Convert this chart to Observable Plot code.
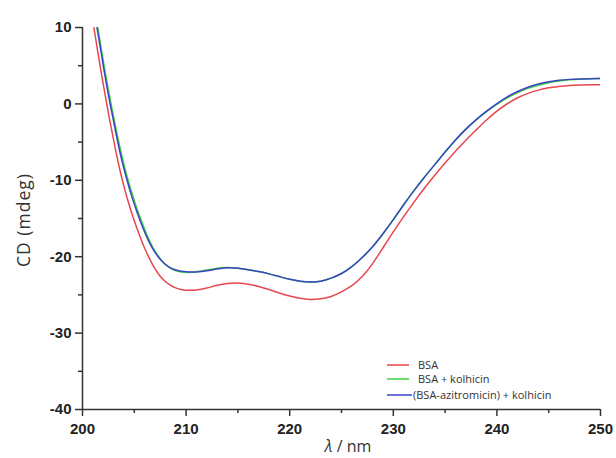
<!DOCTYPE html>
<html>
<head>
<meta charset="utf-8">
<script src="https://cdn.jsdelivr.net/npm/d3@7"></script>
<script src="https://cdn.jsdelivr.net/npm/@observablehq/plot@0.6"></script>
<style>
  html, body { margin: 0; padding: 0; background: #fff; }
  #chart svg { display: block; }
</style>
</head>
<body>
<div id="chart"></div>
<script>
// ---- Data ----
const seriesNames = ["BSA", "BSA + kolhicin", "(BSA-azitromicin) + kolhicin"];
const seriesColors = ["#e8464e", "#3ccf3c", "#3a45c4"];

const lambdaBSA = [201.1, 201.5, 202, 202.5, 203, 203.5, 204, 204.5, 205, 205.5, 206, 206.5, 207, 207.5, 208, 208.5, 209, 209.5, 210, 211, 212, 213, 214, 215, 216, 217, 218, 219, 220, 221, 222, 223, 224, 225, 226, 227, 228, 229, 230, 231, 232, 233, 234, 235, 236, 237, 238, 239, 240, 241, 242, 243, 244, 245, 246, 247, 248, 249, 250];
const cdBSA = [10, 6.6, 2.6, -1.2, -4.7, -8.0, -10.8, -13.2, -15.3, -17.2, -18.9, -20.35, -21.6, -22.55, -23.25, -23.75, -24.08, -24.28, -24.38, -24.35, -24.1, -23.75, -23.5, -23.45, -23.6, -23.9, -24.3, -24.75, -25.15, -25.45, -25.6, -25.5, -25.2, -24.6, -23.8, -22.6, -20.9, -18.85, -16.75, -14.75, -12.85, -11.05, -9.35, -7.75, -6.2, -4.75, -3.4, -2.1, -0.95, 0.02, 0.8, 1.38, 1.8, 2.1, 2.28, 2.4, 2.47, 2.51, 2.52];

const lambdaKol = [201.4, 201.8, 202.3, 202.8, 203.3, 203.8, 204.3, 204.8, 205.3, 205.8, 206.3, 206.8, 207.3, 207.8, 208.3, 208.8, 209.3, 209.8, 210.5, 211, 212, 213, 214, 215, 216, 217, 218, 219, 220, 221, 222, 223, 224, 225, 226, 227, 228, 229, 230, 231, 232, 233, 234, 235, 236, 237, 238, 239, 240, 241, 242, 243, 244, 245, 246, 247, 248, 249, 250];
const cdKol = [10.6, 7.3, 3.3, -0.3, -3.7, -6.8, -9.5, -11.8, -13.9, -15.7, -17.4, -18.8, -19.9, -20.75, -21.35, -21.75, -21.95, -22.05, -22.05, -21.95, -21.75, -21.5, -21.4, -21.5, -21.7, -21.95, -22.25, -22.6, -22.95, -23.2, -23.3, -23.2, -22.8, -22.2, -21.3, -20.1, -18.7, -17.0, -15.15, -13.2, -11.35, -9.6, -7.95, -6.3, -4.75, -3.35, -2.1, -1.0, -0.05, 0.78, 1.48, 2.03, 2.45, 2.77, 3.0, 3.15, 3.24, 3.29, 3.32];

const lambdaAzi = [201.4, 201.8, 202.3, 202.8, 203.3, 203.8, 204.3, 204.8, 205.3, 205.8, 206.3, 206.8, 207.3, 207.8, 208.3, 208.8, 209.3, 209.8, 210.5, 211, 212, 213, 214, 215, 216, 217, 218, 219, 220, 221, 222, 223, 224, 225, 226, 227, 228, 229, 230, 231, 232, 233, 234, 235, 236, 237, 238, 239, 240, 241, 242, 243, 244, 245, 246, 247, 248, 249, 250];
const cdAzi = [10, 6.7, 2.7, -0.9, -4.3, -7.4, -10.0, -12.3, -14.3, -16.1, -17.7, -19.0, -20.0, -20.75, -21.3, -21.65, -21.85, -21.95, -22.0, -22.0, -21.85, -21.6, -21.45, -21.5, -21.7, -21.95, -22.25, -22.6, -22.95, -23.2, -23.3, -23.2, -22.8, -22.2, -21.3, -20.1, -18.7, -17.0, -15.15, -13.2, -11.35, -9.6, -7.95, -6.3, -4.72, -3.3, -2.05, -0.95, 0.05, 0.92, 1.62, 2.18, 2.6, 2.9, 3.1, 3.21, 3.27, 3.3, 3.32];

const xMajorTicks = [200, 210, 220, 230, 240, 250];
const xMinorTicks = [205, 215, 225, 235, 245];
const yMajorTicks = [-40, -30, -20, -10, 0, 10];
const yMinorTicks = [-35, -25, -15, -5, 5];

const xTitle = "nm";
const yTitle = "CD (mdeg)";

// ---- Build tables ----
const toRows = (xs, ys, name) => xs.map((x, i) => ({lambda: x, cd: ys[i], series: name}));
const rowsBSA = toRows(lambdaBSA, cdBSA, seriesNames[0]);
const rowsKol = toRows(lambdaKol, cdKol, seriesNames[1]);
const rowsAzi = toRows(lambdaAzi, cdAzi, seriesNames[2]);

const axisColor = "#333";
const tickFont = "'Liberation Sans', Arial, sans-serif";

const chart = Plot.plot({
  width: 616,
  height: 458,
  marginLeft: 82,
  marginRight: 16,
  marginTop: 27,
  marginBottom: 49,
  style: {fontFamily: tickFont, color: "#222", background: "#fff", overflow: "visible"},
  x: {domain: [200, 250]},
  y: {domain: [-40, 10]},
  marks: [
    Plot.line(rowsBSA, {x: "lambda", y: "cd", stroke: seriesColors[0], strokeWidth: 1.5, curve: "natural", clip: true}),
    Plot.line(rowsKol, {x: "lambda", y: "cd", stroke: seriesColors[1], strokeWidth: 1.5, curve: "natural", clip: true}),
    Plot.line(rowsAzi, {x: "lambda", y: "cd", stroke: seriesColors[2], strokeWidth: 1.5, curve: "natural", clip: true}),
    Plot.ruleX([200], {stroke: axisColor, strokeWidth: 1.5}),
    Plot.ruleY([-40], {stroke: axisColor, strokeWidth: 1.5}),
    Plot.axisX({ticks: xMajorTicks, tickSize: 7, tickPadding: 7, tickFormat: d => String(d), label: null, fontSize: 15, fontWeight: "bold", stroke: axisColor, strokeWidth: 1.5}),
    Plot.axisX({ticks: xMinorTicks, tickSize: 4, tickFormat: () => "", label: null, stroke: axisColor, strokeWidth: 1.5}),
    Plot.axisY({ticks: yMajorTicks, tickSize: 7, tickPadding: 4, tickFormat: d => String(d), label: null, fontSize: 15, fontWeight: "bold", stroke: axisColor, strokeWidth: 1.5}),
    Plot.axisY({ticks: yMinorTicks, tickSize: 4, tickFormat: () => "", label: null, stroke: axisColor, strokeWidth: 1.5})
  ]
});

document.getElementById("chart").appendChild(chart);

// ---- Titles and legend ----
const svg = d3.select(chart);
const labelFont = "'Open Sans', 'Noto Sans', sans-serif";

svg.append("text")
  .attr("transform", "translate(30,220) rotate(-90)")
  .attr("text-anchor", "middle")
  .attr("font-family", labelFont)
  .attr("font-size", 17.5)
  .attr("letter-spacing", 1)
  .attr("fill", "#333")
  .text(yTitle);

const xt = svg.append("text")
  .attr("x", 348)
  .attr("y", 452)
  .attr("text-anchor", "middle")
  .attr("font-family", labelFont)
  .attr("font-size", 16)
  .attr("fill", "#333");
xt.append("tspan").attr("font-style", "italic").text("λ");
xt.append("tspan").text(" / " + xTitle);

const legendY = [365, 379, 395];
const legendLineEnd = [409, 409, 412];
const legendTextX = [418, 418, 413];
seriesNames.forEach((name, i) => {
  svg.append("line")
    .attr("x1", 387).attr("x2", legendLineEnd[i])
    .attr("y1", legendY[i]).attr("y2", legendY[i])
    .attr("stroke", seriesColors[i]).attr("stroke-width", 1.5);
  svg.append("text")
    .attr("x", legendTextX[i]).attr("y", legendY[i])
    .attr("dy", "0.35em")
    .attr("text-anchor", "start")
    .attr("font-family", labelFont)
    .attr("font-size", 11)
    .attr("fill", "#333")
    .text(name);
});
</script>
</body>
</html>
